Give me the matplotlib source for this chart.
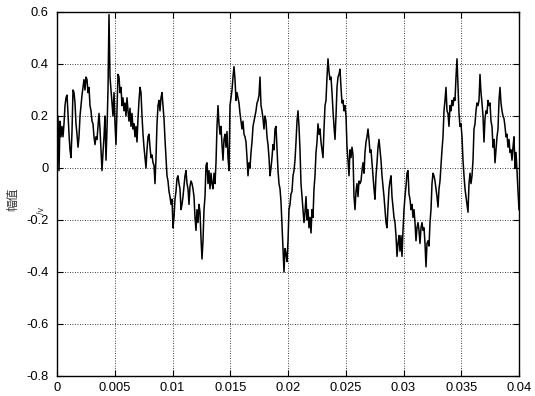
import numpy as np
import matplotlib
matplotlib.use("Agg")
import matplotlib.pyplot as plt

# signal amplitude, segment by segment (uniform sampling over 0..0.04 s)
seg_a = [0.00, 0.20, -0.01, 0.18, 0.12, 0.16, 0.12, 0.17, 0.24, 0.27,
         0.28, 0.21, 0.13, 0.07, 0.04, 0.14, 0.30, 0.29, 0.25, 0.17,
         0.13, 0.08, 0.12, 0.20, 0.24, 0.28, 0.31, 0.34, 0.30, 0.35,
         0.34, 0.29, 0.31, 0.24, 0.22, 0.18, 0.17, 0.12, 0.09, 0.12,
         0.11, 0.16, 0.21, 0.15, 0.07, -0.01, 0.06, 0.12, 0.20, 0.03,
         0.15, 0.30, 0.59, 0.35, 0.30, 0.25, 0.20, 0.29, 0.17, 0.09,
         0.22, 0.36, 0.35, 0.29, 0.31, 0.24, 0.27, 0.22, 0.25, 0.20,
         0.27, 0.22, 0.18, 0.23, 0.16, 0.21, 0.15, 0.17, 0.12, 0.16,
         0.10, 0.19, 0.26, 0.31, 0.29, 0.20, 0.13, 0.08, 0.04, 0.00,
         0.07, 0.12, 0.13, 0.08, 0.04, 0.05, 0.02, 0.01, -0.06, 0.04,
         0.17, 0.24, 0.26, 0.22, 0.27, 0.29, 0.24, 0.19, 0.11, 0.04,
         -0.03, -0.05, -0.09, -0.11, -0.14, -0.12]
seg_b = [-0.23, -0.19, -0.12, -0.09, -0.04, -0.03, -0.06, -0.08, -0.16, -0.14,
         -0.11, -0.07, -0.03, -0.01, -0.06, -0.08, -0.14, -0.07, -0.05, -0.06,
         -0.08, -0.11, -0.19, -0.24, -0.16, -0.21, -0.14, -0.17, -0.27, -0.35,
         -0.28, -0.16, -0.11, 0.01, 0.02, -0.06, -0.01, -0.08, -0.02, -0.06,
         -0.08, -0.02, -0.06, 0.02, 0.16, 0.24, 0.17, 0.13, 0.16, 0.09,
         0.03, 0.11, 0.13, 0.08, 0.14, 0.04, -0.01, 0.24, 0.27, 0.30,
         0.35, 0.39, 0.34, 0.26, 0.29, 0.27, 0.25, 0.21, 0.18, 0.15,
         0.18, 0.13, 0.12, 0.10, 0.04, -0.03, 0.02, 0.00, 0.06, 0.10,
         0.16, 0.18, 0.20, 0.22, 0.25, 0.26, 0.28, 0.35, 0.24, 0.22,
         0.19, 0.15, 0.20, 0.18, 0.12, 0.09, 0.04, -0.03, 0.00, 0.04,
         0.09, 0.07, 0.15, 0.16, 0.07, -0.01, -0.06, -0.08, -0.13, -0.22,
         -0.32, -0.40, -0.31, -0.33, -0.36]
seg_c = [-0.28, -0.16, -0.14, -0.10, -0.09, -0.03, -0.01, 0.03, 0.10, 0.18,
         0.22, 0.16, 0.07, -0.06, -0.11, -0.16, -0.21, -0.17, -0.11, -0.20,
         -0.16, -0.23, -0.19, -0.25, -0.16, -0.19, -0.08, -0.03, 0.06, 0.10,
         0.17, 0.13, 0.15, 0.10, 0.07, 0.04, 0.15, 0.24, 0.26, 0.35,
         0.42, 0.37, 0.34, 0.35, 0.29, 0.22, 0.16, 0.11, 0.20, 0.31,
         0.35, 0.36, 0.38, 0.31, 0.25, 0.26, 0.22, 0.24, 0.20, 0.08,
         0.03, -0.03, 0.07, 0.04, 0.08, 0.05, -0.11, -0.16, -0.09, -0.06,
         -0.11, -0.05, -0.06, -0.05, -0.01, 0.02, -0.02, 0.06, 0.10, 0.12,
         0.15, 0.11, 0.06, 0.07, 0.02, -0.03, -0.08, -0.12, -0.03, 0.02,
         0.08, 0.11, 0.07, 0.03, -0.03, -0.07, -0.11, -0.16, -0.21, -0.23,
         -0.15, -0.08, -0.05, -0.03, -0.11, -0.15, -0.19, -0.21, -0.26, -0.34,
         -0.29, -0.26, -0.32, -0.26, -0.34]
seg_d = [-0.24, -0.16, -0.11, -0.07, -0.02, -0.01, -0.10, -0.12, -0.16, -0.14,
         -0.19, -0.16, -0.21, -0.28, -0.23, -0.21, -0.24, -0.29, -0.23, -0.21,
         -0.24, -0.23, -0.29, -0.38, -0.29, -0.28, -0.30, -0.21, -0.16, -0.06,
         -0.02, -0.03, -0.05, -0.08, -0.11, -0.15, -0.08, -0.05, 0.01, 0.07,
         0.12, 0.22, 0.26, 0.31, 0.22, 0.21, 0.16, 0.24, 0.22, 0.26,
         0.24, 0.27, 0.26, 0.35, 0.42, 0.31, 0.21, 0.16, 0.17, 0.12,
         0.03, -0.03, -0.08, -0.11, -0.14, -0.17, -0.06, -0.02, -0.06, -0.03,
         0.03, 0.15, 0.17, 0.22, 0.25, 0.24, 0.26, 0.36, 0.29, 0.25,
         0.20, 0.10, 0.19, 0.22, 0.21, 0.26, 0.24, 0.25, 0.18, 0.16,
         0.08, 0.11, 0.02, 0.07, 0.12, 0.15, 0.26, 0.31, 0.25, 0.22,
         0.20, 0.19, 0.16, 0.12, 0.13, 0.08, 0.11, 0.06, 0.07, 0.03,
         0.08, 0.12, 0.00, 0.06, -0.01, -0.09, -0.16]

x_ticks = [0, 0.005, 0.01, 0.015, 0.02, 0.025, 0.03, 0.035, 0.04]
x_labels = ["0", "0.005", "0.01", "0.015", "0.02", "0.025", "0.03", "0.035", "0.04"]
y_ticks = [-0.8, -0.6, -0.4, -0.2, 0, 0.2, 0.4, 0.6]
y_labels = ["-0.8", "-0.6", "-0.4", "-0.2", "0", "0.2", "0.4", "0.6"]

values = np.array(seg_a + seg_b + seg_c + seg_d)
t = np.linspace(0.0, 0.04, len(values))

plt.rcParams['font.family'] = ['Liberation Sans', 'DejaVu Sans']

fig = plt.figure(figsize=(5.35, 3.96), dpi=100)
ax = fig.add_axes([57/535, 20/396, 462/535, 364/396])
ax.plot(t, values, color='black', linewidth=1.1)

ax.set_xlim(0, 0.04)
ax.set_ylim(-0.8, 0.6)
ax.set_xticks(x_ticks)
ax.set_xticklabels(x_labels)
ax.set_yticks(y_ticks)
ax.set_yticklabels(y_labels)
ax.tick_params(direction='in', length=4, width=0.8, labelsize=9.3, colors='black',
               top=True, right=True)
ax.tick_params(axis='x', pad=4)
ax.tick_params(axis='y', pad=6)
ax.grid(True, color='black', linestyle=(0, (1, 2)), linewidth=0.6)
for s in ax.spines.values():
    s.set_linewidth(1.0)
    s.set_color('black')

fig.text(13/535, 1 - 199/396, "幅值", rotation=90, ha='center', va='center',
         fontsize=8.5, family=['Noto Sans CJK SC', 'DejaVu Sans'], color='#333333')
fig.text(41/535, 1 - 210/396, "/v", rotation=90, ha='center', va='center',
         fontsize=6.5, color='#333333')

fig.savefig("out.png", dpi=100)
